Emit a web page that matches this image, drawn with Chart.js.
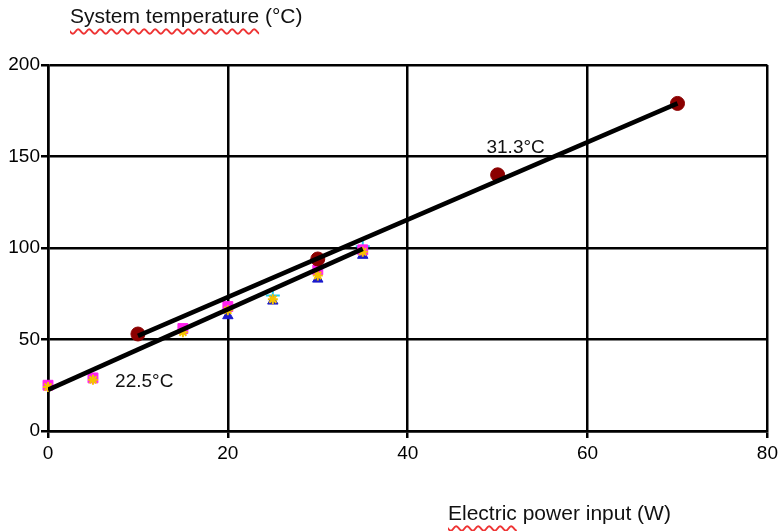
<!DOCTYPE html>
<html>
<head>
<meta charset="utf-8">
<script src="https://cdn.jsdelivr.net/npm/chart.js@4/dist/chart.umd.min.js"></script>
<style>
  body { margin: 0; background: #fff; }
  #wrap { position: relative; width: 782px; height: 531px; }
  .ttl { position: absolute; font-family: "Liberation Sans", Arial, sans-serif; font-size: 21px; color: #111; white-space: nowrap; }
  .sq { text-decoration: underline wavy #e33; text-underline-offset: 5px; text-decoration-thickness: 2px; }
</style>
</head>
<body>
<div id="wrap">
  <canvas id="myChart" width="782" height="531"></canvas>
  <div class="ttl" style="left:70px; top:4px;"><span class="sq">System temperature</span> (°C)</div>
  <div class="ttl" style="left:448px; top:501px;"><span class="sq">Electric</span> power input (W)</div>
</div>
<script>
// ambient 31.3°C run
const hotX = [10, 30, 50, 70]
const hotY = [53, 94, 140, 179]
// ambient 22.5°C runs (several overlapping markers)
const squareX = [0, 5, 15, 20, 30, 35]
const squareY = [25, 29, 56, 68, 88, 99]
const starX = [0, 5, 15, 20, 25, 30, 35]
const starY = [24, 28, 54, 66, 72, 85, 98]
const triX = [20, 25, 30, 35]
const triY = [63, 71, 83, 96]
const crossX = [25, 35]
const crossY = [74, 101]
// fitted lines
const fitHotX = [10, 70]
const fitHotY = [52, 179]
const fitColdX = [0, 35]
const fitColdY = [22.5, 99.5]
// labels on the plot
const noteText = ['31.3°C', '22.5°C']
const noteX = [52, 10.7]
const noteY = [155, 27]

const xTicks = [0, 20, 40, 60, 80]
const yTicks = [0, 50, 100, 150, 200]

function pts(xs, ys) {
    return xs.map((x, i) => ({x: x, y: ys[i]}))
}

const font = {family: '"Liberation Sans", Arial, sans-serif', size: 19}

const notes = {
    id: 'notes',
    afterDatasetsDraw(chart) {
        const ctx = chart.ctx
        const xs = chart.scales.x, ys = chart.scales.y
        ctx.save()
        ctx.font = '19px "Liberation Sans", Arial, sans-serif'
        ctx.fillStyle = '#111'
        ctx.textAlign = 'center'
        ctx.textBaseline = 'middle'
        noteText.forEach((t, i) => {
            ctx.fillText(t, xs.getPixelForValue(noteX[i]), ys.getPixelForValue(noteY[i]))
        })
        ctx.restore()
    }
}

const data = {
    datasets: [
      { type: 'line', data: pts(fitHotX, fitHotY), borderColor: '#000', borderWidth: 4.5, pointRadius: 0, order: 0 },
      { type: 'line', data: pts(fitColdX, fitColdY), borderColor: '#000', borderWidth: 4.5, pointRadius: 0, order: 0 },
      { data: pts(hotX, hotY), pointStyle: 'circle', pointRadius: 7, backgroundColor: '#8b0000', borderColor: '#8b0000', order: 1, clip: false },
      { data: pts(squareX, squareY), pointStyle: 'rect', pointRadius: 7, backgroundColor: '#ff22ee', borderColor: '#ff22ee', order: 3, clip: false },
      { data: pts(triX, triY), pointStyle: 'triangle', pointRadius: 6, backgroundColor: '#1a1acc', borderColor: '#1a1acc', order: 3, clip: false },
      { data: pts(crossX, crossY), pointStyle: 'cross', pointRadius: 7, borderWidth: 2, borderColor: '#22ccee', order: 3, clip: false },
      { data: pts(starX, starY), pointStyle: 'star', pointRadius: 5, borderWidth: 2, borderColor: '#f5c400', order: 1, clip: false }
    ]
}

const config = {
    type: 'scatter',
    data,
    options: {
        responsive: false,
        animation: false,
        layout: { padding: { top: 65, right: 10, left: 0, bottom: 0 } },
        plugins: { legend: { display: false }, tooltip: { enabled: false } },
        scales: {
            x: {
                min: 0, max: 80,
                afterFit: s => { s.height = 100 },
                afterBuildTicks: s => { s.ticks = xTicks.map(v => ({value: v})) },
                border: { color: '#000', width: 2.5 },
                grid: { color: '#000', lineWidth: 2.5, tickLength: 7, tickColor: '#000' },
                ticks: { color: '#000', font, padding: 4, maxRotation: 0 }
            },
            y: {
                min: 0, max: 200,
                afterFit: s => { s.width = 48 },
                afterBuildTicks: s => { s.ticks = yTicks.map(v => ({value: v})) },
                border: { color: '#000', width: 2.5 },
                grid: { color: '#000', lineWidth: 2.5, tickLength: 7, tickColor: '#000' },
                ticks: { color: '#000', font, padding: 1 }
            }
        }
    },
    plugins: [notes]
}

new Chart(document.getElementById('myChart'), config)
</script>
</body>
</html>
